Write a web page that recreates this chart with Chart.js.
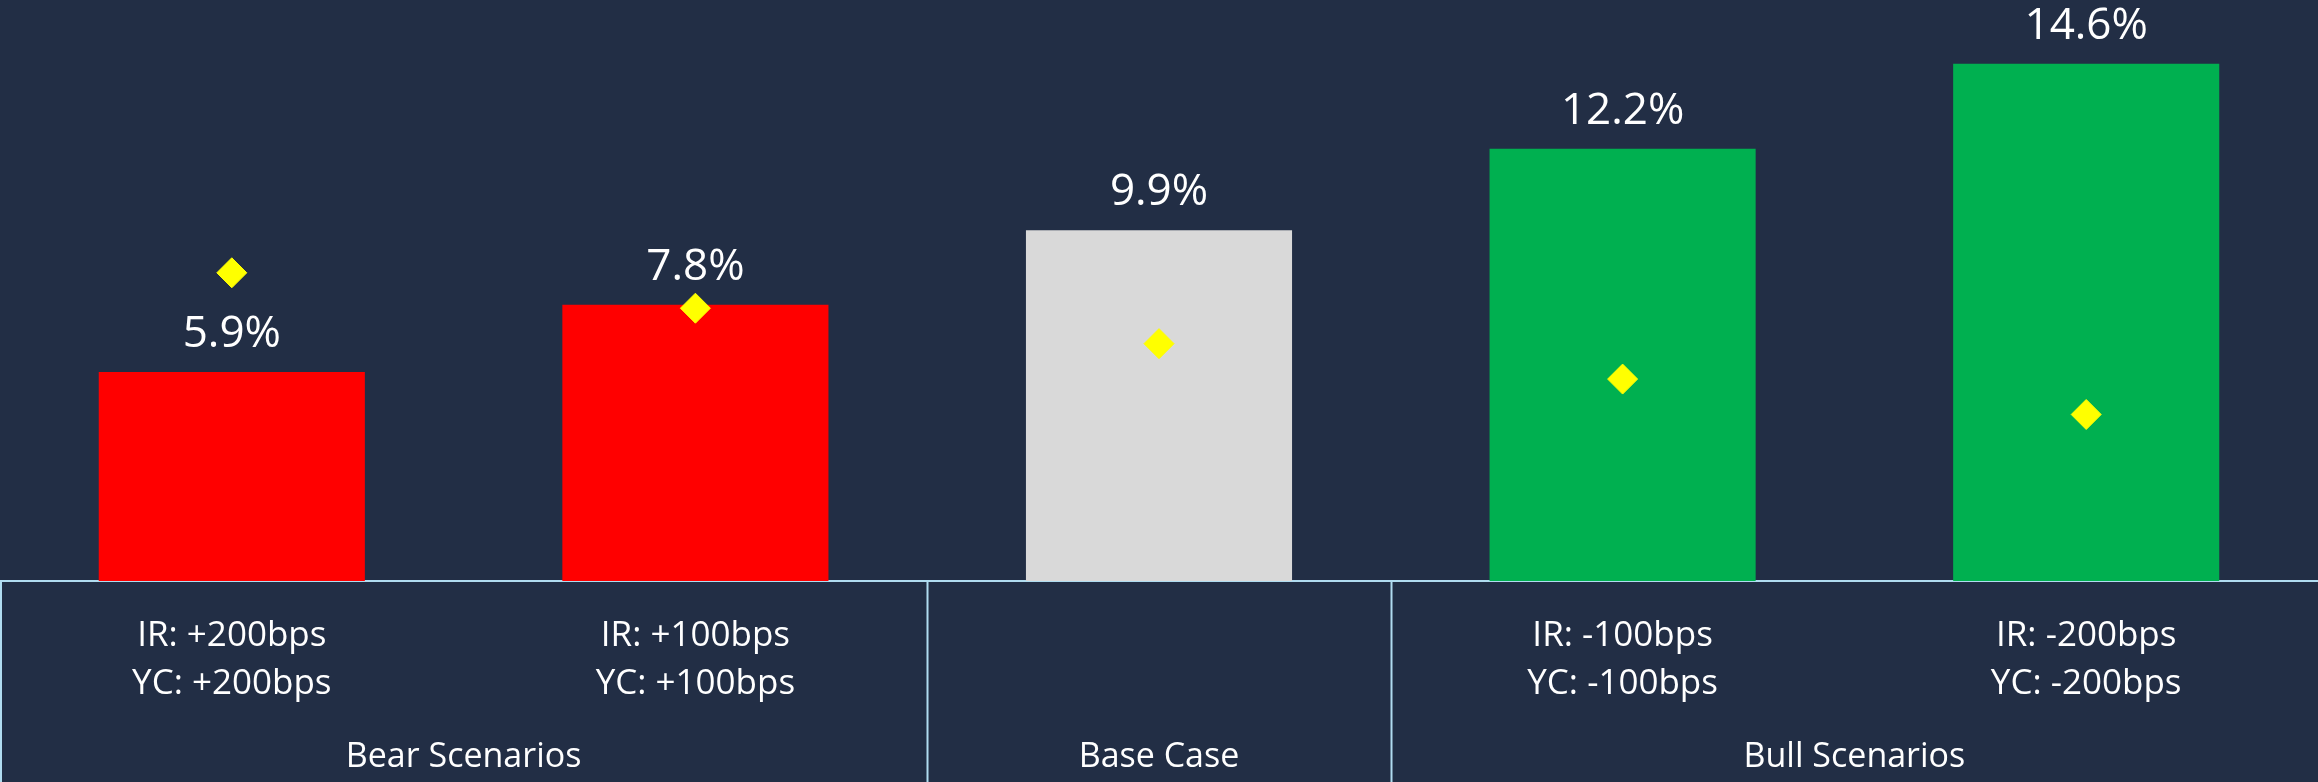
<!DOCTYPE html>
<html>
<head>
<meta charset="utf-8">
<script src="https://cdn.jsdelivr.net/npm/chart.js@4/dist/chart.umd.min.js"></script>
<style>
  html, body { margin: 0; padding: 0; background: #222e45; }
  #wrap { width: 2318px; height: 782px; position: relative; }
</style>
</head>
<body>
<div id="wrap"><canvas id="c"></canvas></div>
<script>
// ---- data ----
const categories = [
  ['IR: +200bps', 'YC: +200bps'],
  ['IR: +100bps', 'YC: +100bps'],
  '',
  ['IR: -100bps', 'YC: -100bps'],
  ['IR: -200bps', 'YC: -200bps']
];
const returnsPct = [5.9, 7.8, 9.9, 12.2, 14.6];
const markerValues = [8.7, 7.7, 6.7, 5.7, 4.7];
const valueLabels = ['5.9%', '7.8%', '9.9%', '12.2%', '14.6%'];
const groupNames = ['Bear Scenarios', 'Base Case', 'Bull Scenarios'];
const groupStart = [0, 2, 3];
const groupEnd = [1, 2, 4];
const barColors = ['#ff0000', '#ff0000', '#d9d9d9', '#00b050', '#00b050'];

const FONT = "'Open Sans', 'Noto Sans', sans-serif";
const LINE = '#b0dcf0';

const overlay = {
  id: 'overlay',
  afterDatasetsDraw(chart) {
    const ctx = chart.ctx;
    const meta = chart.getDatasetMeta(1);
    ctx.save();
    ctx.fillStyle = '#ffffff';
    ctx.font = '44px ' + FONT;
    ctx.textAlign = 'center';
    ctx.textBaseline = 'alphabetic';
    meta.data.forEach((bar, i) => {
      ctx.fillText(valueLabels[i], bar.x, bar.y - 25);
    });
    ctx.restore();
  },
  afterDraw(chart) {
    const ctx = chart.ctx;
    const xs = chart.scales.x;
    const top = chart.chartArea.bottom;
    const bottom = chart.height;
    const step = xs.getPixelForValue(1) - xs.getPixelForValue(0);
    ctx.save();
    ctx.strokeStyle = LINE;
    ctx.lineWidth = 2;
    // left edge
    ctx.beginPath();
    ctx.moveTo(1, top);
    ctx.lineTo(1, bottom);
    ctx.stroke();
    // separators between groups
    for (let g = 1; g < groupNames.length; g++) {
      const x = Math.round(xs.getPixelForValue(groupStart[g]) - step / 2) + 0.5;
      ctx.beginPath();
      ctx.moveTo(x, top);
      ctx.lineTo(x, bottom);
      ctx.stroke();
    }
    // group names
    ctx.fillStyle = '#ffffff';
    ctx.font = '34px ' + FONT;
    ctx.textAlign = 'center';
    ctx.textBaseline = 'middle';
    for (let g = 0; g < groupNames.length; g++) {
      const x0 = xs.getPixelForValue(groupStart[g]) - step / 2;
      const x1 = xs.getPixelForValue(groupEnd[g]) + step / 2;
      ctx.fillText(groupNames[g], (x0 + x1) / 2, 757);
    }
    ctx.restore();
  }
};

new Chart(document.getElementById('c'), {
  data: {
    labels: categories,
    datasets: [
      {
        type: 'line',
        data: markerValues,
        showLine: false,
        pointStyle: 'rectRot',
        pointRadius: 15,
        pointHoverRadius: 15,
        pointBackgroundColor: '#ffff00',
        pointBorderColor: '#ffff00',
        pointBorderWidth: 1,
        order: 0
      },
      {
        type: 'bar',
        data: returnsPct,
        backgroundColor: barColors,
        borderWidth: 0,
        categoryPercentage: 1.0,
        barPercentage: 0.574,
        order: 1
      }
    ]
  },
  options: {
    responsive: true,
    maintainAspectRatio: false,
    animation: false,
    devicePixelRatio: 1,
    layout: { padding: 0, autoPadding: false },
    plugins: { legend: { display: false }, tooltip: { enabled: false } },
    scales: {
      x: {
        grid: { display: false },
        border: { display: true, color: LINE, width: 2 },
        ticks: {
          color: '#ffffff',
          font: { family: FONT, size: 35, lineHeight: '48px' },
          padding: 23,
          autoSkip: false,
          maxRotation: 0,
          minRotation: 0
        },
        afterFit(scale) {
          scale.height = 201;
          scale.paddingLeft = 0;
          scale.paddingRight = 0;
        }
      },
      y: {
        display: false,
        min: 0,
        max: 16.4
      }
    }
  },
  plugins: [overlay]
});
</script>
</body>
</html>
